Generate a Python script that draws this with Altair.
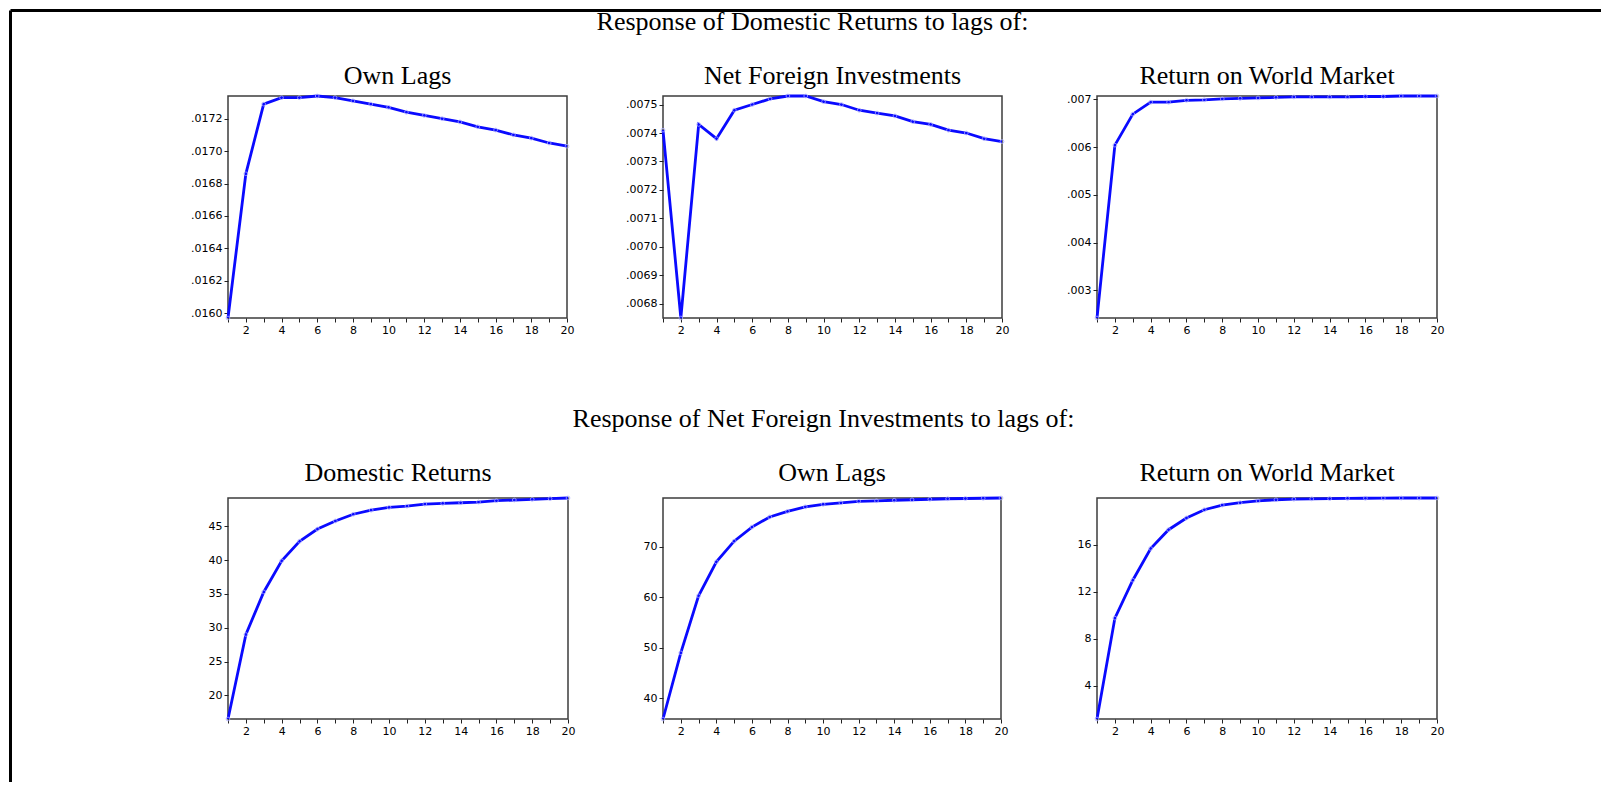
import altair as alt
import pandas as pd

steps = list(range(1, 21))

# Response of Domestic Returns
dom_own = [0.01597, 0.01686, 0.01729, 0.01733, 0.01733, 0.01734, 0.01733, 0.01731, 0.01729, 0.01727,
           0.01724, 0.01722, 0.01720, 0.01718, 0.01715, 0.01713, 0.01710, 0.01708, 0.01705, 0.01703]
dom_nfi = [0.00741, 0.00675, 0.00743, 0.00738, 0.00748, 0.00750, 0.00752, 0.00753, 0.00753, 0.00751,
           0.00750, 0.00748, 0.00747, 0.00746, 0.00744, 0.00743, 0.00741, 0.00740, 0.00738, 0.00737]
dom_world = [0.00242, 0.00604, 0.00669, 0.00694, 0.00694, 0.00698, 0.00699, 0.00701, 0.00702, 0.00703,
             0.00704, 0.00705, 0.00705, 0.00705, 0.00705, 0.00706, 0.00706, 0.00707, 0.00707, 0.00707]

# Response of Net Foreign Investments
nfi_dom = [16.5, 29.0, 35.3, 39.9, 42.8, 44.6, 45.8, 46.8, 47.4, 47.8,
           48.0, 48.3, 48.4, 48.5, 48.6, 48.8, 48.9, 49.0, 49.1, 49.2]
nfi_own = [35.9, 49.0, 60.3, 67.0, 71.1, 73.9, 75.9, 77.0, 77.9, 78.4,
           78.7, 79.0, 79.1, 79.2, 79.3, 79.4, 79.5, 79.55, 79.6, 79.65]
nfi_world = [1.18, 9.77, 13.0, 15.7, 17.3, 18.3, 19.0, 19.4, 19.6, 19.75,
             19.85, 19.9, 19.93, 19.95, 19.97, 19.98, 19.99, 20.0, 20.0, 20.0]

section_titles = ["Response of Domestic Returns to lags of:",
                  "Response of Net Foreign Investments to lags of:"]
top_names = ["Own Lags", "Net Foreign Investments", "Return on World Market"]
bottom_names = ["Domestic Returns", "Own Lags", "Return on World Market"]

ticks_dom_own = [0.0160, 0.0162, 0.0164, 0.0166, 0.0168, 0.0170, 0.0172]
ticks_dom_nfi = [0.0068, 0.0069, 0.0070, 0.0071, 0.0072, 0.0073, 0.0074, 0.0075]
ticks_dom_world = [0.003, 0.004, 0.005, 0.006, 0.007]
ticks_nfi_dom = [20, 25, 30, 35, 40, 45]
ticks_nfi_own = [40, 50, 60, 70]
ticks_nfi_world = [4, 8, 12, 16]

LINE_BLUE = "#0a0aff"
TITLE_SIZE = 26


def panel(name, values, ticks, decimals, width, height, title_offset):
    df = pd.DataFrame({"step": steps, "value": values})
    yaxis = dict(values=ticks, title=None, labelOverlap=False)
    if decimals:
        yaxis["labelExpr"] = "replace(format(datum.value, '.%df'), '0.', '.')" % decimals
    x = alt.X("step:Q",
              scale=alt.Scale(domain=[1, 20], nice=False, zero=False),
              axis=alt.Axis(values=steps, title=None, labelFlush=False, labelOverlap=False,
                            labelExpr="datum.value % 2 == 0 ? datum.label : ''"))
    y = alt.Y("value:Q", scale=alt.Scale(zero=False, nice=False), axis=alt.Axis(**yaxis))
    base = alt.Chart(df).encode(x=x, y=y)
    line = base.mark_line(color=LINE_BLUE, strokeWidth=2.8)
    pts = base.mark_point(shape="circle", size=14, filled=False, color="#a8a8ff",
                          strokeWidth=1, opacity=0.8)
    return alt.layer(line, pts).properties(
        width=width, height=height,
        title=alt.TitleParams(name, offset=title_offset, anchor="middle", frame="group",
                              fontSize=TITLE_SIZE))


blank_df = pd.DataFrame({"k": [0]})
NO_STROKE = alt.ViewBackground(stroke="transparent")


def blank(width, height, title=None):
    ch = alt.Chart(blank_df).mark_point(opacity=0).encode(x=alt.value(0), y=alt.value(0))
    props = dict(width=width, height=height, view=NO_STROKE)
    if title is not None:
        props["title"] = title
    return ch.properties(**props)


# top-left spacer carrying the outer frame lines of the figure
frame_base = alt.Chart(blank_df)
top_border = frame_base.mark_rule(color="black", strokeWidth=3).encode(
    x=alt.value(-110.5), x2=alt.value(1480), y=alt.value(-85.5))
left_border = frame_base.mark_rule(color="black", strokeWidth=3).encode(
    x=alt.value(-110.5), y=alt.value(-85.5), y2=alt.value(686))
spacer1 = alt.layer(top_border, left_border).properties(width=12, height=222, view=NO_STROKE)
spacer2 = blank(1, 221)

sec1 = blank(1, 222, alt.TitleParams(section_titles[0], anchor="middle", frame="group",
                                     dx=-720, offset=58, limit=1400, fontSize=TITLE_SIZE))
sec2 = blank(1, 221, alt.TitleParams(section_titles[1], anchor="middle", frame="group",
                                     dx=-709, offset=63, limit=1400, fontSize=TITLE_SIZE))

p1 = panel(top_names[0], dom_own, ticks_dom_own, 4, 339, 222, 1)
p2 = panel(top_names[1], dom_nfi, ticks_dom_nfi, 4, 339, 222, 1)
p3 = panel(top_names[2], dom_world, ticks_dom_world, 3, 340, 222, 1)
p4 = panel(bottom_names[0], nfi_dom, ticks_nfi_dom, 0, 340, 221, 6)
p5 = panel(bottom_names[1], nfi_own, ticks_nfi_own, 0, 338, 221, 6)
p6 = panel(bottom_names[2], nfi_world, ticks_nfi_world, 0, 340, 221, 6)

chart = alt.concat(
    spacer1, p1, p2, p3, sec1,
    spacer2, p4, p5, p6, sec2,
    columns=5,
    spacing={"row": 180, "column": 95},
    align={"row": "all", "column": "none"},
    bounds="flush",
).properties(
    padding=0, background="white"
).configure_view(
    stroke="#3c3c3c", strokeWidth=1.5
).configure_axis(
    labelFont="DejaVu Sans", labelFontSize=11, labelColor="black",
    tickColor="#222222", tickSize=4, tickWidth=1, labelPadding=2,
    domain=False, grid=False
).configure_title(
    font="Liberation Serif", fontWeight="normal", color="black"
)

chart.save("out.html", embed_options={"renderer": "svg", "actions": False})
